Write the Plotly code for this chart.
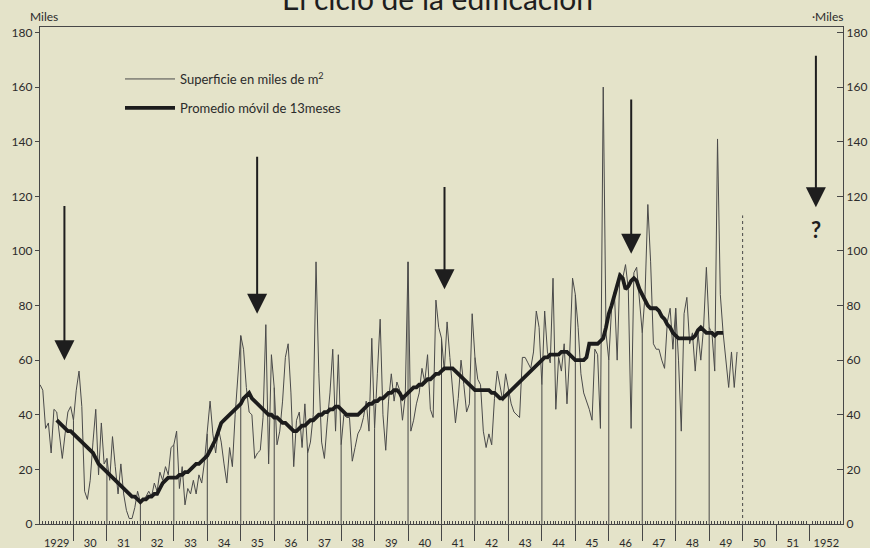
import plotly.graph_objects as go

# ---------------- data ----------------
first_year = 1929
# monthly built surface, thousands of m2, Jan 1929 .. Nov 1949
surface = [
    51, 49, 35, 37, 26, 42, 41, 32, 24, 33, 41, 43,      # 1929
    38, 49, 56, 43, 12, 9, 16, 30, 42, 18, 37, 22,       # 1930
    24, 16, 32, 21, 11, 22, 11, 5, 2, 2, 6, 12,          # 1931
    8, 9, 10, 12, 10, 15, 12, 19, 16, 21, 18, 28,        # 1932
    29, 34, 13, 21, 7, 13, 11, 16, 11, 18, 15, 23,       # 1933
    33, 45, 33, 26, 35, 30, 22, 15, 28, 21, 40, 55,      # 1934
    69, 64, 50, 41, 40, 24, 26, 27, 39, 73, 22, 62,      # 1935
    50, 29, 34, 45, 61, 66, 48, 21, 38, 41, 28, 44,      # 1936
    26, 30, 40, 96, 55, 30, 24, 37, 48, 64, 34, 62,      # 1937
    29, 40, 39, 39, 23, 28, 33, 35, 39, 45, 34, 68,      # 1938
    35, 55, 75, 40, 27, 45, 55, 45, 52, 49, 38, 47,      # 1939
    96, 34, 38, 44, 48, 57, 52, 62, 42, 39, 82, 72,      # 1940
    68, 56, 74, 61, 49, 37, 46, 60, 51, 41, 44, 77,      # 1941
    61, 53, 51, 34, 28, 33, 29, 46, 56, 51, 45, 55,      # 1942
    49, 44, 41, 40, 39, 61, 61, 59, 57, 63, 78, 72,      # 1943
    51, 78, 63, 59, 90, 42, 61, 56, 66, 44, 63, 90,      # 1944
    84, 72, 55, 48, 45, 42, 38, 64, 62, 35, 160, 70,     # 1945
    60, 79, 85, 60, 92, 90, 95, 86, 35, 92, 94, 82,      # 1946
    70, 84, 117, 96, 66, 64, 64, 60, 57, 74, 79, 64,     # 1947
    79, 60, 34, 77, 83, 66, 70, 56, 70, 60, 72, 94,      # 1948
    72, 70, 56, 141, 84, 70, 60, 50, 63, 50, 63,         # 1949
]
# 13-month moving average, Jul 1929 .. Jun 1949
ma_start = 1929.5
moving_avg = [
    38, 37, 36, 35, 34, 34,                              # 1929
    33, 32, 31, 30, 29, 28, 27, 26, 24, 22, 21, 20,      # 1930
    19, 18, 17, 16, 15, 14, 13, 12, 11, 10, 10, 9,       # 1931
    8, 9, 9, 10, 10, 11, 11, 13, 15, 16, 17, 17,         # 1932
    17, 17, 18, 18, 19, 19, 20, 21, 22, 22, 23, 24,      # 1933
    25, 27, 29, 31, 34, 37, 38, 39, 40, 41, 42, 43,      # 1934
    44, 46, 47, 48, 46, 45, 44, 43, 42, 41, 40, 40,      # 1935
    39, 39, 38, 37, 37, 36, 35, 34, 34, 35, 36, 36,      # 1936
    37, 38, 38, 39, 40, 40, 41, 41, 42, 42, 43, 43,      # 1937
    42, 41, 40, 40, 40, 40, 40, 41, 42, 43, 44, 44,      # 1938
    45, 45, 46, 46, 47, 48, 48, 49, 49, 48, 46, 47,      # 1939
    48, 49, 50, 50, 51, 51, 52, 53, 53, 54, 55, 55,      # 1940
    56, 57, 57, 57, 57, 56, 55, 54, 53, 52, 51, 50,      # 1941
    49, 49, 49, 49, 49, 49, 48, 48, 47, 46, 46, 47,      # 1942
    48, 49, 50, 51, 52, 53, 54, 55, 56, 57, 58, 59,      # 1943
    60, 61, 61, 62, 62, 62, 62, 63, 63, 63, 62, 61,      # 1944
    60, 60, 60, 60, 61, 66, 66, 66, 66, 67, 68, 72,      # 1945
    77, 80, 84, 87, 91, 90, 86, 87, 89, 90, 89, 86,      # 1946
    84, 82, 80, 79, 79, 79, 78, 76, 75, 73, 72, 70,      # 1947
    69, 68, 68, 68, 68, 68, 68, 69, 71, 72, 71, 70,      # 1948
    70, 70, 69, 70, 70, 70,                              # 1949
]
year_labels = ["1929", "30", "31", "32", "33", "34", "35", "36", "37", "38", "39",
               "40", "41", "42", "43", "44", "45", "46", "47", "48", "49",
               "50", "51", "1952"]
y_ticks = [0, 20, 40, 60, 80, 100, 120, 140, 160, 180]
# cycle arrows: (time, tip value, tail value)
arrow_x = [1929.73, 1935.49, 1941.09, 1946.67, 1952.19]
arrow_tip = [60, 77, 86, 99, 116]
arrow_tail = [117, 135, 124, 156, 172]

# ---------------- figure ----------------
BG = "rgb(228,227,201)"
INK = "#2b2b2b"
GREY = "#474747"
FONT = "Lato, Noto Sans, sans-serif"
W, H = 870, 548
L, R, T, B = 40, 843, 27, 524


def px(x):
    return (x - L) / (R - L)


def py(y):
    return (B - y) / (B - T)


t_raw = [first_year + k / 12 for k in range(len(surface))]
t_ma = [ma_start + k / 12 for k in range(len(moving_avg))]

fig = go.Figure()
fig.add_trace(go.Scatter(
    x=t_raw, y=surface, mode="lines", name="Superficie en miles de m<sup>2</sup>",
    line=dict(color="#4a4a4a", width=1), legendgroup="a"))
fig.add_trace(go.Scatter(
    x=t_ma, y=moving_avg, mode="lines", name="Promedio móvil de 13meses",
    line=dict(color="#1c1c1c", width=3.8), legendgroup="b"))

shapes = []
n_years = len(surface) // 12 + 1
for i in range(1, n_years):
    idx = i * 12
    if idx < len(surface):
        shapes.append(dict(type="line", xref="x", yref="y", x0=first_year + i, x1=first_year + i,
                           y0=0, y1=surface[idx], line=dict(color=GREY, width=1), layer="below"))
# dashed line closing the data period
shapes.append(dict(type="line", xref="x", yref="y", x0=1950, x1=1950, y0=0, y1=113,
                   line=dict(color=GREY, width=1, dash="dot"), layer="below"))

annotations = []
for x, tip, tail in zip(arrow_x, arrow_tip, arrow_tail):
    annotations.append(dict(x=x, y=tip, ax=x, ay=tail, xref="x", yref="y", axref="x", ayref="y",
                            showarrow=True, arrowhead=2, arrowsize=2.0, arrowwidth=2,
                            arrowcolor="#1e1e1e", standoff=0, text=""))
annotations.append(dict(x=arrow_x[-1], y=108, xref="x", yref="y", text="<b>?</b>", showarrow=False,
                        font=dict(size=22, color="#1e1e1e", family=FONT)))
annotations.append(dict(x=px(437), y=py(-2), xref="paper", yref="paper", text="El ciclo de la edificación",
                        showarrow=False, yanchor="middle", font=dict(size=30, color="#1e1e1e", family=FONT)))
annotations.append(dict(x=px(28), y=py(7), xref="paper", yref="paper", text="Miles",
                        showarrow=False, font=dict(size=12, color=INK, family=FONT)))
annotations.append(dict(x=px(845), y=py(7), xref="paper", yref="paper", text="·Miles",
                        showarrow=False, font=dict(size=12, color=INK, family=FONT)))

month_ticks = [first_year + k / 12 for k in range(24 * 12 + 1)]
month_text = [year_labels[k // 12] if k % 12 == 6 else "" for k in range(24 * 12 + 1)]

fig.update_layout(
    width=W, height=H,
    margin=dict(l=L, r=W - R, t=T, b=H - B, autoexpand=False),
    paper_bgcolor=BG, plot_bgcolor=BG,
    font=dict(family=FONT, color=INK),
    showlegend=True,
    legend=dict(x=px(120), y=py(64), xanchor="left", yanchor="top", bgcolor="rgba(0,0,0,0)",
                font=dict(size=13, color=INK, family=FONT), tracegroupgap=9, itemwidth=50),
    xaxis=dict(range=[1929, 1953], showgrid=False, zeroline=False, automargin=False,
               showline=True, linecolor=GREY, linewidth=1.3, mirror=True,
               tickmode="array", tickvals=month_ticks, ticktext=month_text,
               ticks="inside", ticklen=3, tickwidth=0.8, tickcolor=GREY,
               ticklabelstandoff=9, tickfont=dict(size=11, color=INK),
               minor=dict(tickvals=list(range(1930, 1953)), ticks="outside", ticklen=16,
                          tickcolor=GREY, tickwidth=1, showgrid=False)),
    yaxis=dict(range=[0, 182], showgrid=False, zeroline=False, automargin=False,
               showline=True, linecolor=GREY, linewidth=1.3,
               tickvals=y_ticks, ticks="outside", ticklen=4, tickcolor=GREY,
               tickfont=dict(size=12, color=INK)),
    yaxis2=dict(range=[0, 182], overlaying="y", side="right", showgrid=False, zeroline=False,
                automargin=False, showline=True, linecolor=GREY, linewidth=1.3,
                tickvals=y_ticks, ticks="inside", ticklen=6, tickcolor=GREY,
                tickfont=dict(size=12, color=INK)),
    shapes=shapes,
    annotations=annotations,
)
fig.add_trace(go.Scatter(x=[1929, 1953], y=[0, 0], yaxis="y2", mode="lines",
                         line=dict(width=0), showlegend=False, hoverinfo="skip"))

post = "document.body.style.margin='0px';document.body.style.overflow='hidden';"
fig.write_html("out.html", post_script=post, config={"displayModeBar": False})
